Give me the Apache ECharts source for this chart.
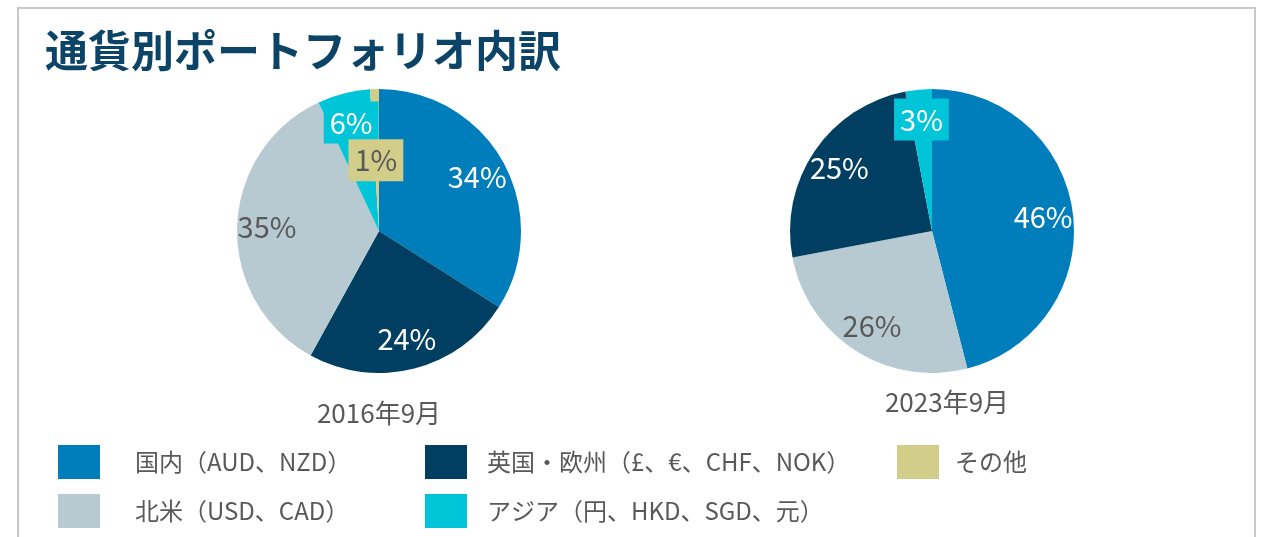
<!DOCTYPE html>
<html>
<head>
<meta charset="utf-8">
<script src="https://cdn.jsdelivr.net/npm/echarts@6/dist/echarts.min.js"></script>
<style>
  html, body { margin: 0; padding: 0; background: #fff; }
  #chart { width: 1265px; height: 537px; }
</style>
</head>
<body>
<div id="chart"></div>
<script>
// 通貨別ポートフォリオ内訳
const categories = ['国内（AUD、NZD）', '英国・欧州（£、€、CHF、NOK）', '北米（USD、CAD）', 'アジア（円、HKD、SGD、元）', 'その他']
const periods = ['2016年9月', '2023年9月']
// slice order (clockwise from 12 o'clock) and values, in %
const order2016 = [0, 1, 2, 3, 4]
const values2016 = [34, 24, 35, 6, 1]
const order2023 = [0, 2, 1, 3]
const values2023 = [46, 26, 25, 3]

const colors = ['#007ebb', '#003f62', '#b7c9d1', '#00c4d7', '#d3cd8a']
const labelColors = ['#fff', '#fff', '#595959', '#fff', '#595959']
const boxed = { 3: true, 4: true }
const innerLabel = { 4: true }   // その他 label sits near the centre
const font = '"Noto Sans CJK JP", "Noto Sans", sans-serif'

// mode: 'fill' = coloured sectors, 'outer' / 'inner' = transparent label carriers
function pieData (order, values, mode) {
  return order.map((c, i) => {
    let item = { name: categories[c], value: values[i] }
    if (mode === 'fill') {
      item.itemStyle = { color: colors[c] }
      return item
    }
    item.itemStyle = { color: 'rgba(0,0,0,0)' }
    let show = mode === 'inner' ? !!innerLabel[c] : !innerLabel[c]
    item.label = { show: show, color: labelColors[c] }
    if (boxed[c]) {
      item.label.backgroundColor = colors[c]
      item.label.padding = [5, 6, 3, 6]
    }
    return item
  })
}

function labelSeries (center, radius, order, values, mode) {
  let s = {
    type: 'pie',
    center: center,
    radius: radius,
    startAngle: 90,
    silent: true,
    minShowLabelAngle: 0,
    avoidLabelOverlap: false,
    labelLayout: { hideOverlap: false },
    label: {
      position: 'inside',
      formatter: '{c}%',
      fontFamily: font,
      fontSize: 29,
      lineHeight: 34
    },
    labelLine: { show: false },
    data: pieData(order, values, mode)
  }
  if (mode === 'inner') {
    // tiny sector: widen the invisible carrier so its label is kept,
    // then nudge the label back over the real slice
    s.minAngle = 22
    s.labelLayout = { hideOverlap: false, dx: 11, dy: 2 }
  }
  return s
}

function pies (center, order, values) {
  return [
    {
      type: 'pie',
      center: center,
      radius: 142,
      startAngle: 90,
      silent: true,
      label: { show: false },
      labelLine: { show: false },
      itemStyle: { borderWidth: 0 },
      data: pieData(order, values, 'fill')
    },
    labelSeries(center, [76, 142], order, values, 'outer'),
    labelSeries(center, [0, 142], order, values, 'inner')
  ]
}

var chart = echarts.init(document.getElementById('chart'))
var legendCommon = {
  orient: 'vertical',
  top: 445,
  padding: 0,
  itemWidth: 42,
  itemHeight: 34,
  itemGap: 15,
  icon: 'rect',
  selectedMode: false,
  textStyle: { fontFamily: font, fontSize: 24, color: '#595959' }
}
var option = {
  backgroundColor: '#fff',
  animation: false,
  title: [
    {
      text: '通貨別ポートフォリオ内訳',
      left: 45,
      top: 29,
      padding: 0,
      textStyle: { fontFamily: font, fontSize: 43, fontWeight: 'bold', color: '#0b4466' }
    },
    {
      text: periods[0],
      left: 379,
      top: 400,
      textAlign: 'center',
      padding: 0,
      textStyle: { fontFamily: font, fontSize: 26, fontWeight: 'normal', color: '#595959' }
    },
    {
      text: periods[1],
      left: 947,
      top: 389,
      textAlign: 'center',
      padding: 0,
      textStyle: { fontFamily: font, fontSize: 26, fontWeight: 'normal', color: '#595959' }
    }
  ],
  legend: [
    Object.assign({}, legendCommon, {
      left: 58,
      data: [categories[0], categories[2]],
      textStyle: Object.assign({}, legendCommon.textStyle, { padding: [0, 0, 0, 30] })
    }),
    Object.assign({}, legendCommon, {
      left: 425,
      data: [categories[1], categories[3]],
      textStyle: Object.assign({}, legendCommon.textStyle, { padding: [0, 0, 0, 15] })
    }),
    Object.assign({}, legendCommon, {
      left: 897,
      data: [categories[4]],
      textStyle: Object.assign({}, legendCommon.textStyle, { padding: [0, 0, 0, 11] })
    })
  ],
  graphic: [
    {
      type: 'rect',
      shape: { x: 18, y: 8, width: 1237, height: 600 },
      style: { fill: 'none', stroke: '#c8c8c8', lineWidth: 2 },
      silent: true
    }
  ],
  series: [].concat(
    pies([379, 231], order2016, values2016),
    pies([932, 231], order2023, values2023)
  )
}
chart.setOption(option)
</script>
</body>
</html>
